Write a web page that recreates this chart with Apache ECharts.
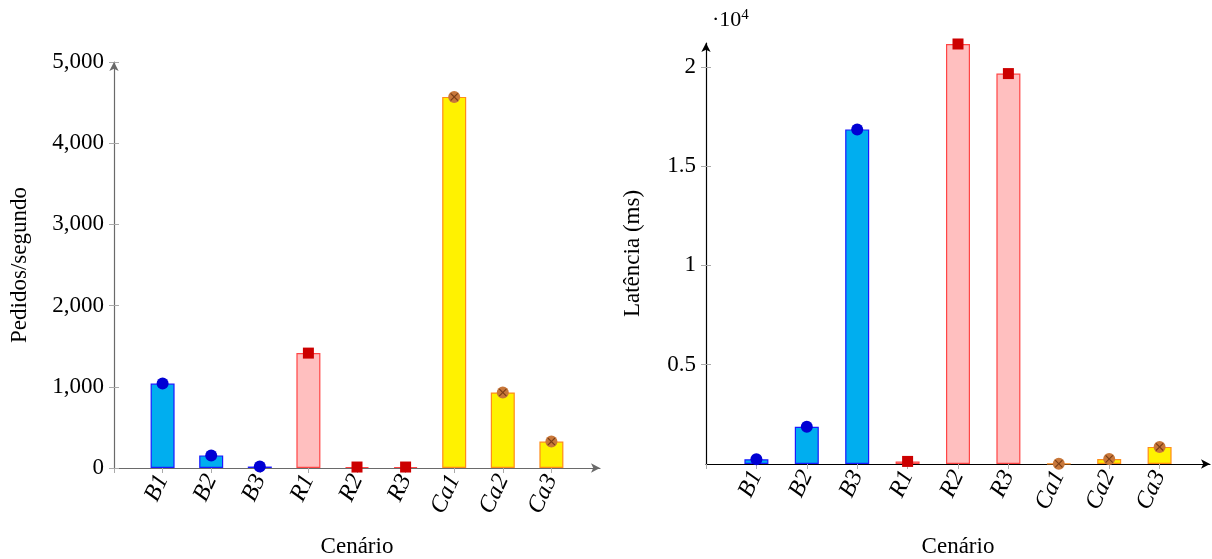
<!DOCTYPE html>
<html>
<head>
    <meta charset="utf-8">
    <title>Cenários</title>
    <script src="https://cdn.jsdelivr.net/npm/echarts@6/dist/echarts.min.js"></script>
</head>
<body style="margin:0;background:#fff;">
    <div id="main" style="width:1212px;height:559px;"></div>
</body>
</html>
<script>
// dados
var categories = ['B1', 'B2', 'B3', 'R1', 'R2', 'R3', 'Ca1', 'Ca2', 'Ca3'];
var groups = ['b', 'b', 'b', 'r', 'r', 'r', 'c', 'c', 'c'];
var throughput = [1040, 155, 18, 1415, 12, 12, 4570, 930, 325];
var latency = [240, 1870, 16850, 130, 21150, 19660, 15, 250, 860];
var leftTicks = [0, 1000, 2000, 3000, 4000, 5000];
var rightTicks = [5000, 10000, 15000, 20000];

var FONT = "'Liberation Serif', 'DejaVu Serif', serif";
var barStyle = {
    b: { color: '#00aeef', borderColor: '#1a1aff' },
    r: { color: '#ffbfbf', borderColor: '#ff4545' },
    c: { color: '#fff200', borderColor: '#ff8c1a' }
};
var markStyle = {
    b: { symbol: 'circle', size: 12, color: '#0000d4' },
    r: { symbol: 'rect', size: 11, color: '#cc0000' },
    c: { symbol: 'circle', size: 12, color: '#c8773a' }
};
var crossPath = 'path://M1,0 L5,4 L9,0 L10,1 L6,5 L10,9 L9,10 L5,6 L1,10 L0,9 L4,5 L0,1 Z';

// eixo com posições 0..10, barras em 1..9
var cats = [''].concat(categories).concat(['']);
function pad(arr) { return [null].concat(arr).concat([null]); }

function barData(vals) {
    return pad(vals.map(function (v, i) {
        return { value: v, itemStyle: Object.assign({ borderWidth: 1.2 }, barStyle[groups[i]]) };
    }));
}
function markData(vals) {
    return pad(vals.map(function (v, i) {
        var m = markStyle[groups[i]];
        return { value: v, symbol: m.symbol, symbolSize: m.size, itemStyle: { color: m.color, opacity: 1 } };
    }));
}
function crossData(vals) {
    return pad(vals.map(function (v, i) { return groups[i] == 'c' ? v : null; }));
}

function xAxisFor(grid, lineColor) {
    return {
        type: 'category', gridIndex: grid, data: cats, boundaryGap: false,
        axisLine: { lineStyle: { color: lineColor, width: 1.2 }, symbol: ['none', 'arrow'], symbolSize: [7, 9] },
        axisTick: { length: 5, lineStyle: { color: '#aaa' },
            interval: function (i) { return i < cats.length - 1; } },
        axisLabel: { rotate: 65, fontFamily: FONT, fontSize: 24, fontStyle: 'italic', color: '#000', margin: 8, interval: 0 },
        name: 'Cenário', nameLocation: 'middle', nameGap: grid == 0 ? 67 : 71,
        nameTextStyle: { fontFamily: FONT, fontSize: 23, color: '#000' }
    };
}

function seriesFor(idx, vals) {
    return [
        { type: 'bar', xAxisIndex: idx, yAxisIndex: idx * 2, data: barData(vals), barWidth: 24, animation: false },
        { type: 'scatter', xAxisIndex: idx, yAxisIndex: idx * 2, data: markData(vals), z: 3, animation: false },
        { type: 'scatter', xAxisIndex: idx, yAxisIndex: idx * 2, data: crossData(vals), symbol: crossPath,
          symbolSize: 8, itemStyle: { color: '#7a3e16', opacity: 1 }, z: 4, animation: false }
    ];
}

var myChart = echarts.init(document.getElementById('main'));

var option = {
    backgroundColor: '#fff',
    grid: [
        { left: 114, right: 612, top: 62, bottom: 91, outerBoundsMode: 'none' },
        { left: 706, right: 2, top: 43, bottom: 95, outerBoundsMode: 'none' }
    ],
    xAxis: [xAxisFor(0, '#6a6a6a'), xAxisFor(1, '#000')],
    yAxis: [
        {
            type: 'value', gridIndex: 0, min: 0, max: 5000, interval: 1000, position: 'left',
            splitLine: { show: false },
            axisLine: { show: true, lineStyle: { color: '#6a6a6a', width: 1.2 }, symbol: ['none', 'arrow'], symbolSize: [7, 9] },
            axisTick: { show: true, length: 5, lineStyle: { color: '#aaa' } },
            axisLabel: { fontFamily: FONT, fontSize: 23, color: '#000', margin: 10,
                formatter: function (v) { return v.toLocaleString('en-US'); } },
            name: 'Pedidos/segundo', nameLocation: 'middle', nameGap: 83,
            nameTextStyle: { fontFamily: FONT, fontSize: 23, color: '#000' }
        },
        {
            type: 'value', gridIndex: 0, min: 0, max: 5000, interval: 1000, position: 'left',
            splitLine: { show: false }, axisLine: { show: false }, axisLabel: { show: false },
            axisTick: { show: true, inside: true, length: 5, lineStyle: { color: '#aaa' } }
        },
        {
            type: 'value', gridIndex: 1, min: 0, max: 21200, position: 'left',
            splitLine: { show: false },
            axisLine: { show: true, lineStyle: { color: '#000', width: 1.2 }, symbol: ['none', 'arrow'], symbolSize: [7, 9] },
            axisTick: { show: true, length: 5, lineStyle: { color: '#aaa' }, customValues: rightTicks },
            axisLabel: { fontFamily: FONT, fontSize: 23, color: '#000', margin: 10, customValues: rightTicks,
                formatter: function (v) { return String(v / 10000); } },
            name: 'Latência (ms)', nameLocation: 'middle', nameGap: 62,
            nameTextStyle: { fontFamily: FONT, fontSize: 23, color: '#000' }
        },
        {
            type: 'value', gridIndex: 1, min: 0, max: 21200, position: 'left',
            splitLine: { show: false }, axisLine: { show: false }, axisLabel: { show: false },
            axisTick: { show: true, inside: true, length: 5, lineStyle: { color: '#aaa' }, customValues: rightTicks }
        }
    ],
    graphic: [{
        type: 'text', left: 712, top: 8,
        style: { text: '·10{s|4}', fontFamily: FONT, fontSize: 22, fill: '#000',
            rich: { s: { fontFamily: FONT, fontSize: 15, verticalAlign: 'top', padding: [0, 0, 10, 0] } } }
    }],
    series: seriesFor(0, throughput).concat(seriesFor(1, latency))
};

myChart.setOption(option);
</script>
